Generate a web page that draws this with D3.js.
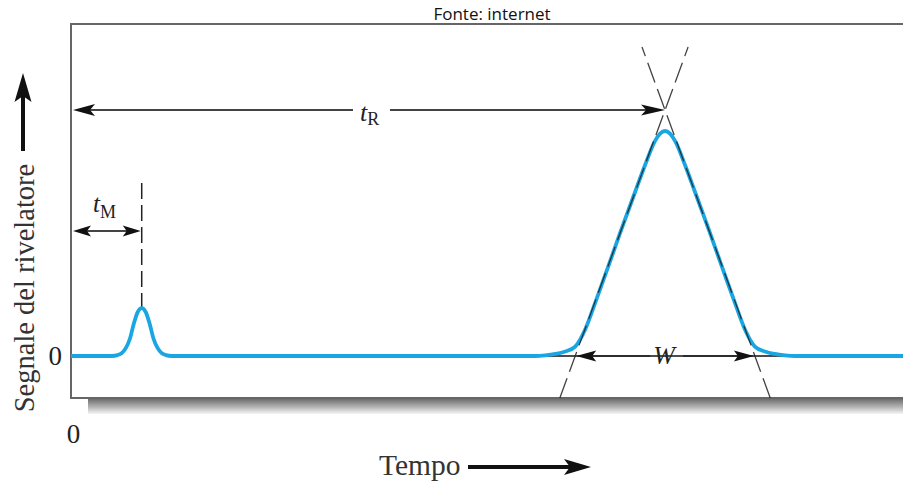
<!DOCTYPE html>
<html>
<head>
<meta charset="utf-8">
<script src="https://cdn.jsdelivr.net/npm/d3@7"></script>
<style>
  html, body { margin: 0; background: #fff; }
  svg { display: block; }
</style>
</head>
<body>
<svg id="chart" width="903" height="482"></svg>
<script>
// ---- Chromatogram trace (time in arbitrary units, detector signal in % of main peak) ----
const traceTime = [
  0, 4.9, 5.6, 6.1, 6.6, 7.1, 7.5, 8.0, 8.5, 9.0, 9.5, 9.9, 10.4, 10.9, 11.4, 12.1,
  55.8, 57.0, 58.2, 59.4, 60.6, 61.8, 63.0, 64.2, 66.0, 67.8, 69.0, 70.2, 70.8, 71.4,
  72.0, 72.6, 73.8, 75.0, 76.8, 78.6, 79.8, 81.0, 82.2, 83.4, 84.6, 85.8, 87.0, 100
];
const traceSignal = [
  0, 0, 0.4, 1.3, 3.6, 7.9, 13.7, 19.4, 21.3, 19.4, 13.7, 7.9, 3.6, 1.3, 0.4, 0,
  0, 0.3, 0.9, 2.0, 4.2, 11.8, 23.6, 35.9, 54.7, 72.9, 84.9, 95.6, 98.8, 100,
  98.8, 95.6, 84.9, 72.9, 54.7, 35.9, 23.6, 11.8, 4.2, 2.0, 0.9, 0.3, 0, 0
];

// Characteristic times
const deadTime = 8.5;          // t_M
const retentionTime = 71.4;    // t_R
const tangentBase = [60.6, 82.2]; // where the inflection tangents cross the baseline
const tangentApexSignal = 109.3;  // where the two tangents meet
const deadMarkerTop = 76.9;       // top of the dashed t_M marker
const deadArrowSignal = 55.6;     // level of the t_M arrow

// Text
const yTickLabels = ["0"];
const xTickLabels = ["0"];
const yTitle = "Segnale del rivelatore";
const xTitle = "Tempo";
const sourceNote = "Fonte: internet";

// ---- Layout ----
const svg = d3.select("#chart");
const frame = { left: 71, top: 24, right: 903, bottom: 398 };
const x = d3.scaleLinear().domain([0, 100]).range([frame.left, 903]);
const y = d3.scaleLinear().domain([0, 100]).range([356, 131]);
const serif = "'Liberation Serif', 'DejaVu Serif', serif";
const blue = "#19a6e2";

// Frame shadow
const defs = svg.append("defs");
const grad = defs.append("linearGradient").attr("id", "shadow")
  .attr("x1", 0).attr("y1", 0).attr("x2", 0).attr("y2", 1);
grad.append("stop").attr("offset", "0%").attr("stop-color", "#6e6e6e");
grad.append("stop").attr("offset", "45%").attr("stop-color", "#a9a9a9");
grad.append("stop").attr("offset", "100%").attr("stop-color", "#f5f5f5");
svg.append("rect")
  .attr("x", 88).attr("y", frame.bottom + 1)
  .attr("width", 903 - 88).attr("height", 15)
  .attr("fill", "url(#shadow)");

// Frame
svg.append("path")
  .attr("d", `M${frame.right},${frame.top}H${frame.left}V${frame.bottom}H${frame.right}`)
  .attr("fill", "none").attr("stroke", "#666").attr("stroke-width", 2);

// Arrowhead helper: tip at (tx, ty), pointing in direction angle (radians)
function arrowHead(g, tx, ty, angle, len, half, notch) {
  const pts = [[0, 0], [-len, -half], [-len + notch, 0], [-len, half]];
  const c = Math.cos(angle), s = Math.sin(angle);
  const p = pts.map(([px, py]) => [tx + px * c - py * s, ty + px * s + py * c]);
  g.append("path")
    .attr("d", "M" + p.map(d => d.join(",")).join("L") + "Z")
    .attr("fill", "#111");
}

// Baseline extension under the W arrow
svg.append("line")
  .attr("x1", x(55.8)).attr("x2", x(86.9))
  .attr("y1", y(0)).attr("y2", y(0))
  .attr("stroke", "#111").attr("stroke-width", 1.5);

// Dashed t_M marker
svg.append("line")
  .attr("x1", x(deadTime)).attr("x2", x(deadTime))
  .attr("y1", y(deadMarkerTop)).attr("y2", y(21.3))
  .attr("stroke", "#222").attr("stroke-width", 1.5)
  .attr("stroke-dasharray", "16,6");

// Chromatogram trace
const line = d3.line()
  .x((d, i) => x(traceTime[i]))
  .y(d => y(d))
  .curve(d3.curveMonotoneX);
svg.append("path")
  .attr("d", line(traceSignal))
  .attr("fill", "none").attr("stroke", blue)
  .attr("stroke-width", 3.8).attr("stroke-linejoin", "round");

// Inflection tangents (dashed), drawn over the peak flanks
const tangentTop = y.invert(47), tangentBottom = y.invert(frame.bottom);
const tanAt = (base, s) => base + (retentionTime - base) * s / tangentApexSignal;
tangentBase.forEach(b => {
  svg.append("line")
    .attr("x1", x(tanAt(b, tangentBottom))).attr("y1", y(tangentBottom))
    .attr("x2", x(tanAt(b, tangentTop))).attr("y2", y(tangentTop))
    .attr("stroke", "#222").attr("stroke-width", 1.3)
    .attr("stroke-opacity", 0.85)
    .attr("stroke-dasharray", "21,7");
});

// t_R arrow
const ann = svg.append("g");
const yR = y(tangentApexSignal);
ann.append("line").attr("x1", x(0) + 10).attr("x2", 353).attr("y1", yR).attr("y2", yR)
  .attr("stroke", "#444").attr("stroke-width", 2);
ann.append("line").attr("x1", 390).attr("x2", x(retentionTime) - 12).attr("y1", yR).attr("y2", yR)
  .attr("stroke", "#444").attr("stroke-width", 2);
arrowHead(ann, x(0) + 2, yR, Math.PI, 22, 6, 5);
arrowHead(ann, x(retentionTime), yR, 0, 24, 5.5, 5);
const tR = ann.append("text").attr("x", 360).attr("y", yR + 11)
  .attr("font-family", serif).attr("fill", "#222");
tR.append("tspan").attr("font-style", "italic").attr("font-size", 26).text("t");
tR.append("tspan").attr("font-size", 18).attr("dy", 4).text("R");

// t_M arrow
const yM = y(deadArrowSignal);
ann.append("line").attr("x1", x(0) + 8).attr("x2", x(deadTime) - 8).attr("y1", yM).attr("y2", yM)
  .attr("stroke", "#444").attr("stroke-width", 2);
arrowHead(ann, x(0) + 2, yM, Math.PI, 18, 5.5, 4);
arrowHead(ann, x(deadTime) - 1, yM, 0, 18, 5.5, 4);
const tM = ann.append("text").attr("x", 93).attr("y", yM - 19)
  .attr("font-family", serif).attr("fill", "#222");
tM.append("tspan").attr("font-style", "italic").attr("font-size", 25).text("t");
tM.append("tspan").attr("font-size", 18).attr("dy", 6).text("M");

// W arrow
const y0 = y(0);
ann.append("line").attr("x1", x(tangentBase[0]) + 8).attr("x2", 650).attr("y1", y0).attr("y2", y0)
  .attr("stroke", "#222").attr("stroke-width", 1.5);
ann.append("line").attr("x1", 683).attr("x2", x(tangentBase[1]) - 8).attr("y1", y0).attr("y2", y0)
  .attr("stroke", "#222").attr("stroke-width", 1.5);
arrowHead(ann, x(tangentBase[0]) + 1, y0, Math.PI, 20, 5.5, 4);
arrowHead(ann, x(tangentBase[1]) - 1, y0, 0, 20, 5.5, 4);
ann.append("text").attr("x", x(retentionTime) - 1).attr("y", y0 + 8)
  .attr("text-anchor", "middle").attr("font-family", serif)
  .attr("font-style", "italic").attr("font-size", 26).attr("fill", "#222").text("W");

// Axes tick labels
const yAxis = d3.axisLeft(y).tickValues([0]).tickFormat((d, i) => yTickLabels[i])
  .tickSize(0).tickPadding(9);
const gy = svg.append("g").attr("transform", `translate(${frame.left},0)`).call(yAxis);
gy.select(".domain").remove();
gy.selectAll("text").attr("font-family", serif).attr("font-size", 27).attr("fill", "#222");

const xAxis = d3.axisBottom(x).tickValues([0]).tickFormat((d, i) => xTickLabels[i])
  .tickSize(0).tickPadding(26);
const gx = svg.append("g").attr("transform", `translate(2,${frame.bottom})`).call(xAxis);
gx.select(".domain").remove();
gx.selectAll("text").attr("font-family", serif).attr("font-size", 27).attr("fill", "#222");

// Y axis title with arrow
svg.append("text")
  .attr("transform", "translate(34,288) rotate(-90)")
  .attr("text-anchor", "middle").attr("font-family", serif).attr("font-size", 28.5)
  .attr("fill", "#333").text(yTitle);
svg.append("line").attr("x1", 23).attr("x2", 23).attr("y1", 151).attr("y2", 95)
  .attr("stroke", "#111").attr("stroke-width", 4);
arrowHead(svg, 23, 73, -Math.PI / 2, 29, 8.5, 6);

// X axis title with arrow
svg.append("text").attr("x", 379).attr("y", 475)
  .attr("font-family", serif).attr("font-size", 29.5).attr("fill", "#333").text(xTitle);
svg.append("line").attr("x1", 468).attr("x2", 570).attr("y1", 467).attr("y2", 467)
  .attr("stroke", "#111").attr("stroke-width", 4);
arrowHead(svg, 591, 467, 0, 27, 8, 6);

// Source note
svg.append("text").attr("x", 492).attr("y", 20).attr("text-anchor", "middle")
  .attr("font-family", "'Open Sans', 'Liberation Sans', sans-serif").attr("font-size", 17)
  .attr("fill", "#111").text(sourceNote);
</script>
</body>
</html>
